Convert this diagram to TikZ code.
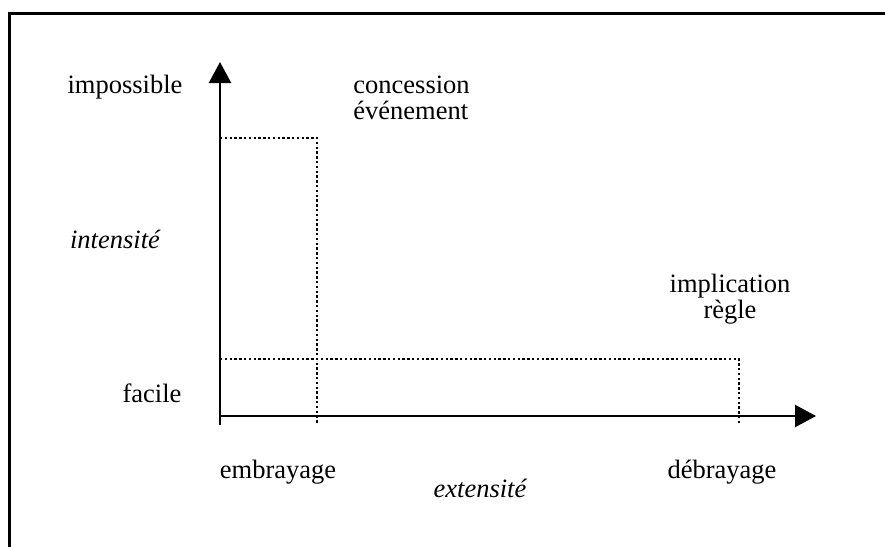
\documentclass[tikz,border=0pt]{standalone}
\usepackage{fontspec}
\setmainfont{Liberation Serif}
\usetikzlibrary{arrows.meta}

\tikzset{
  frame/.style={line width=1.5pt},
  axis/.style={line width=1.1pt, -{Triangle[length=10.5pt, width=11pt]}},
  guide/.style={line width=1.3pt, dash pattern=on 1.2pt off 1.2pt},
  lbl/.style={inner sep=0pt, font=\fontsize{13.25pt}{13pt}\selectfont},
  lblit/.style={lbl, font=\fontsize{13.25pt}{13pt}\selectfont\itshape},
}

\begin{document}
\begin{tikzpicture}[x=0.5pt, y=-0.5pt]
  \useasboundingbox (0,0) rectangle (885,547);

  % open frame (top and left sides only)
  \coordinate (frameBL) at (9.5,547);
  \coordinate (frameTL) at (9.5,13.5);
  \coordinate (frameTR) at (885,13.5);
  \draw[frame] (frameBL) -- (frameTL) -- (frameTR);

  % axes
  \coordinate (origin) at (220,416);
  \coordinate (ybottom) at (220,425);
  \coordinate (ytip) at (220,62);
  \coordinate (xtip) at (816,416);
  \draw[axis] (ybottom) -- (ytip);
  \draw[axis] (origin) -- (xtip);

  % dotted guides
  \coordinate (highstart) at (220,138);
  \coordinate (highcorner) at (317,138);
  \coordinate (highend) at (317,424);
  \coordinate (lowstart) at (220,359);
  \coordinate (lowcorner) at (739,359);
  \coordinate (lowend) at (739,425);
  \draw[guide] (highstart) -- (highcorner) -- (highend);
  \draw[guide] (lowstart) -- (lowcorner) -- (lowend);

  % intensity labels
  \node[lbl, anchor=base] (impossible) at (125,93) {impossible};
  \node[lblit, anchor=base] (intensite) at (115,248) {intensité};
  \node[lbl, anchor=base] (facile) at (152,402) {facile};

  % extensity labels
  \node[lbl, anchor=base] (embrayage) at (278,478) {embrayage};
  \node[lblit, anchor=base] (extensite) at (480,497) {extensité};
  \node[lbl, anchor=base] (debrayage) at (722,478) {débrayage};

  % regions
  \node[lbl, anchor=base west] (concession) at (353,93) {concession};
  \node[lbl, anchor=base west] (evenement) at ([yshift=-13pt]concession.base west) {événement};
  \node[lbl, anchor=base] (implication) at (730,292) {implication};
  \node[lbl, anchor=base] (regle) at ([yshift=-13pt]implication.base) {règle};
\end{tikzpicture}
\end{document}
